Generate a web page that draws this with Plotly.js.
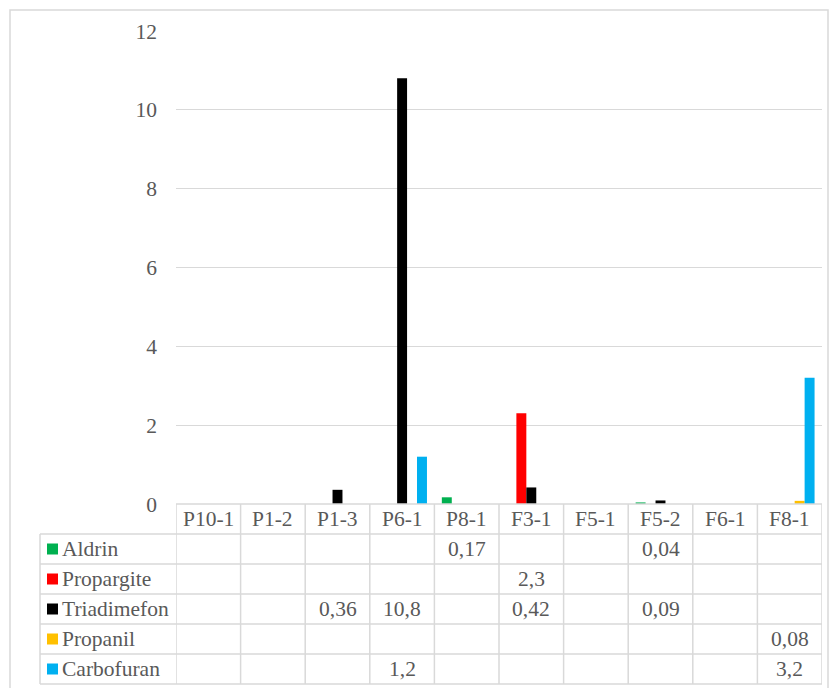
<!DOCTYPE html>
<html><head><meta charset="utf-8">
<script src="https://cdn.plot.ly/plotly-3.0.1.min.js"></script>
<style>html,body{margin:0;padding:0;background:#fff}#c{width:829px;height:688px}</style>
</head><body><div id="c"></div>
<script>
const categories = ["P10-1","P1-2","P1-3","P6-1","P8-1","F3-1","F5-1","F5-2","F6-1","F8-1"];
const seriesNames = ["Aldrin","Propargite","Triadimefon","Propanil","Carbofuran"];
const aldrin      = [null,null,null,null,0.17,null,null,0.04,null,null];
const propargite  = [null,null,null,null,null,2.3,null,null,null,null];
const triadimefon = [null,null,0.36,10.8,null,0.42,null,0.09,null,null];
const propanil    = [null,null,null,null,null,null,null,null,null,0.08];
const carbofuran  = [null,null,null,1.2,null,null,null,null,null,3.2];
const seriesValues = [aldrin, propargite, triadimefon, propanil, carbofuran];
const seriesColors = ["#00B050","#FF0000","#000000","#FFC000","#00B0F0"];
const yTicks = [0,2,4,6,8,10,12];

// geometry (pixels)
const W=829,H=688, L=176, R=822, T=31, B=504;
const pw=R-L, ph=B-T;
const px=x=>(x-L)/pw, py=y=>(B-y)/ph;
const rowTops=[504,534,564,594,624,654,684];
const gridC="#d9d9d9", txtC="#595959", FONT="Liberation Serif";
const FS=21.5;

const idx = categories.map((_,i)=>i);
const traces = seriesNames.map((n,k)=>({
  type:"bar", name:n, x:idx, y:seriesValues[k],
  marker:{color:seriesColors[k]}, hoverinfo:"skip"
}));

const shapes=[], annotations=[];
shapes.push({type:"rect",xref:"paper",yref:"paper",x0:px(10),x1:px(828),y0:py(692),y1:py(10),line:{color:gridC,width:1.5}});
shapes.push({type:"line",xref:"paper",yref:"paper",x0:px(L),x1:px(R),y0:py(504),y1:py(504),line:{color:gridC,width:1.5}});
for(let r=1;r<rowTops.length;r++){
  shapes.push({type:"line",xref:"paper",yref:"paper",x0:px(40),x1:px(R),y0:py(rowTops[r]),y1:py(rowTops[r]),line:{color:gridC,width:1.5}});
}
shapes.push({type:"line",xref:"paper",yref:"paper",x0:px(40),x1:px(40),y0:py(534),y1:py(684),line:{color:gridC,width:1.5}});
for(let i=0;i<=categories.length;i++){
  shapes.push({type:"line",xref:"x",yref:"paper",x0:i-0.5,x1:i-0.5,y0:py(504),y1:py(684),line:{color:gridC,width:1.5}});
}
categories.forEach((c,i)=>annotations.push({xref:"x",yref:"paper",x:i,y:py(519),text:c,showarrow:false,xanchor:"center",yanchor:"middle",font:{family:FONT,size:FS,color:txtC}}));
seriesNames.forEach((n,k)=>{
  const yc=(rowTops[k+1]+rowTops[k+2])/2;
  shapes.push({type:"rect",xref:"paper",yref:"paper",x0:px(47),x1:px(58),y0:py(yc+5.5),y1:py(yc-5.5),fillcolor:seriesColors[k],line:{width:0}});
  annotations.push({xref:"paper",yref:"paper",x:px(60),y:py(yc),text:n,showarrow:false,xanchor:"left",yanchor:"middle",font:{family:FONT,size:FS,color:txtC}});
  seriesValues[k].forEach((v,i)=>{
    if(v===null) return;
    annotations.push({xref:"x",yref:"paper",x:i,y:py(yc),text:String(v).replace(".",","),showarrow:false,xanchor:"center",yanchor:"middle",font:{family:FONT,size:FS,color:txtC}});
  });
});

const layout={
  width:W,height:H,
  font:{family:FONT,size:FS,color:txtC},
  margin:{l:L,r:W-R,t:T,b:H-B,pad:0},
  paper_bgcolor:"#fff",plot_bgcolor:"#fff",
  showlegend:false,barmode:"group",bargap:0.23,bargroupgap:0,
  xaxis:{range:[-0.5,categories.length-0.5],showticklabels:false,showgrid:false,zeroline:false,showline:false,ticks:"",fixedrange:true},
  yaxis:{range:[0,12],tickvals:yTicks,ticktext:yTicks.map(String),showgrid:true,gridcolor:gridC,gridwidth:1.3,zeroline:false,showline:false,ticks:"",ticklabelstandoff:18,
    tickfont:{family:FONT,size:FS,color:txtC}},
  shapes, annotations
};
Plotly.newPlot("c",traces,layout,{displayModeBar:false,staticPlot:true});
</script></body></html>
